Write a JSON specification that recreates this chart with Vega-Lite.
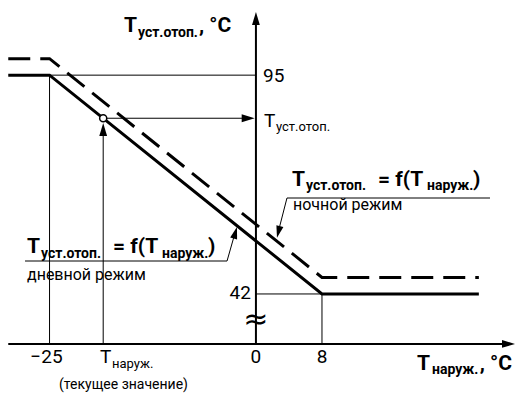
{
  "$schema": "https://vega.github.io/schema/vega-lite/v6.json",
  "width": 516,
  "height": 398,
  "padding": 0,
  "autosize": {"type": "none"},
  "background": "white",
  "config": {"view": {"stroke": null}, "text": {"font": "Roboto", "color": "black"}},
  "datasets": {
    "curves": [
      {"mode": "day", "ord": 1, "x": -30, "y": 95},
      {"mode": "day", "ord": 2, "x": -25, "y": 95},
      {"mode": "day", "ord": 3, "x": 8, "y": 42},
      {"mode": "day", "ord": 4, "x": 27, "y": 42},
      {"mode": "night", "ord": 1, "x": -30, "y": 99},
      {"mode": "night", "ord": 2, "x": -25, "y": 99},
      {"mode": "night", "ord": 3, "x": 8, "y": 46},
      {"mode": "night", "ord": 4, "x": 27, "y": 46}
    ],
    "segments": [
      {"kind": "axis", "x": 0, "y": 29.9, "x2": 0, "y2": 108},
      {"kind": "axis", "x": -30, "y": 29.9, "x2": 30, "y2": 29.9},
      {"kind": "thin", "x": -25, "y": 95, "x2": 0, "y2": 95},
      {"kind": "thin", "x": -25, "y": 95, "x2": -25, "y2": 29.9},
      {"kind": "thin", "x": -18.5, "y": 29.9, "x2": -18.5, "y2": 81},
      {"kind": "thin", "x": -18.5, "y": 84.56, "x2": -1.5, "y2": 84.56},
      {"kind": "thin", "x": 0, "y": 42, "x2": 8, "y2": 42},
      {"kind": "thin", "x": 8, "y": 42, "x2": 8, "y2": 29.9},
      {"kind": "thin", "x": 3.76, "y": 65.24, "x2": 28.35, "y2": 65.24},
      {"kind": "thin", "x": 3.76, "y": 65.24, "x2": 2.7, "y2": 57},
      {"kind": "thin", "x": -27.97, "y": 49.98, "x2": -3.5, "y2": 49.98},
      {"kind": "thin", "x": -3.5, "y": 49.98, "x2": -2.5, "y2": 57}
    ],
    "arrows": [
      {"dir": "up", "x": 0, "y": 110.3},
      {"dir": "up", "x": -18.5, "y": 83.4},
      {"dir": "right", "x": 31.38, "y": 29.9},
      {"dir": "right", "x": -0.15, "y": 84.56},
      {"dir": "night", "x": 2.55, "y": 55.6},
      {"dir": "day", "x": -2.3, "y": 58.2}
    ],
    "marker": [
      {"x": -18.5, "y": 84.56}
    ],
    "texts": [
      {"role": "boldBig", "text": "T", "x": -15.98, "y": 105.45},
      {"role": "boldBig", "text": ", °C", "x": -6.9, "y": 105.45},
      {"role": "boldBig", "text": "T", "x": 19.51, "y": 23.58},
      {"role": "boldBig", "text": ", °C", "x": 27.1, "y": 23.58},
      {"role": "boldBig", "text": "T", "x": 4.37, "y": 68.15},
      {"role": "boldBig", "text": "= f(T", "x": 14.79, "y": 68.15},
      {"role": "boldBig", "text": ")", "x": 26.29, "y": 68.15},
      {"role": "boldBig", "text": "T", "x": -27.73, "y": 51.92},
      {"role": "boldBig", "text": "= f(T", "x": -17.31, "y": 51.92},
      {"role": "boldBig", "text": ")", "x": -5.81, "y": 51.92},
      {"role": "boldSub", "text": "уст.отоп.", "x": -14.29, "y": 104.24},
      {"role": "boldSub", "text": "наруж.", "x": 21.33, "y": 22.61},
      {"role": "boldSub", "text": "уст.отоп.", "x": 6.06, "y": 67.18},
      {"role": "boldSub", "text": "наруж.", "x": 20.72, "y": 67.18},
      {"role": "boldSub", "text": "уст.отоп.", "x": -26.03, "y": 50.71},
      {"role": "boldSub", "text": "наруж.", "x": -11.38, "y": 50.71},
      {"role": "regBig", "text": "95", "x": 0.86, "y": 93.34},
      {"role": "regBig", "text": "T", "x": 0.98, "y": 82.44},
      {"role": "regBig", "text": "T", "x": -18.89, "y": 25.28},
      {"role": "regSub", "text": "уст.отоп.", "x": 2.43, "y": 81.47},
      {"role": "regSub", "text": "наруж.", "x": -17.43, "y": 24.07},
      {"role": "regMid", "text": "ночной режим", "x": 4.49, "y": 62.34},
      {"role": "regMid", "text": "дневной режим", "x": -27.73, "y": 45.38},
      {"role": "tick", "text": "−25", "x": -25.37, "y": 25.28},
      {"role": "tick", "text": "0", "x": 0, "y": 25.28},
      {"role": "tick", "text": "8", "x": 8, "y": 25.28},
      {"role": "note", "text": "(текущее значение)", "x": -16.04, "y": 18.98},
      {"role": "tickRight", "text": "42", "x": -0.6, "y": 40.66},
      {"role": "break", "text": "≈", "x": 0, "y": 33.6}
    ]
  },
  "encoding": {
    "x": {"field": "x", "type": "quantitative", "scale": {"domain": [-31, 31.5], "nice": false, "zero": false}, "axis": null},
    "y": {"field": "y", "type": "quantitative", "scale": {"domain": [16.8, 113.2], "nice": false, "zero": false}, "axis": null}
  },
  "layer": [
    {
      "data": {"name": "segments"},
      "transform": [{"filter": "datum.kind === 'thin'"}],
      "mark": {"type": "rule", "color": "black", "strokeWidth": 1},
      "encoding": {"x2": {"field": "x2"}, "y2": {"field": "y2"}}
    },
    {
      "data": {"name": "segments"},
      "transform": [{"filter": "datum.kind === 'axis'"}],
      "mark": {"type": "rule", "color": "black", "strokeWidth": 2},
      "encoding": {"x2": {"field": "x2"}, "y2": {"field": "y2"}}
    },
    {
      "data": {"name": "curves"},
      "transform": [{"filter": "datum.mode === 'day'"}],
      "mark": {"type": "line", "color": "black", "strokeWidth": 3, "strokeJoin": "miter"},
      "encoding": {"order": {"field": "ord"}}
    },
    {
      "data": {"name": "curves"},
      "transform": [{"filter": "datum.mode === 'night'"}],
      "mark": {"type": "line", "color": "black", "strokeWidth": 3, "strokeDash": [22, 10], "strokeJoin": "miter"},
      "encoding": {"order": {"field": "ord"}}
    },
    {
      "data": {"name": "marker"},
      "mark": {"type": "point", "shape": "circle", "size": 50, "filled": false, "fill": "white", "fillOpacity": 1, "stroke": "black", "strokeWidth": 1.5, "opacity": 1}
    },
    {
      "data": {"name": "arrows"},
      "transform": [{"filter": "datum.dir === 'up'"}],
      "mark": {"type": "point", "shape": "M0,0L0.6,2L-0.6,2Z", "size": 169, "filled": true, "color": "black", "opacity": 1, "angle": 0}
    },
    {
      "data": {"name": "arrows"},
      "transform": [{"filter": "datum.dir === 'right'"}],
      "mark": {"type": "point", "shape": "M0,0L0.6,2L-0.6,2Z", "size": 169, "filled": true, "color": "black", "opacity": 1, "angle": 90}
    },
    {
      "data": {"name": "arrows"},
      "transform": [{"filter": "datum.dir === 'night'"}],
      "mark": {"type": "point", "shape": "M0,0L0.6,2L-0.6,2Z", "size": 144, "filled": true, "color": "black", "opacity": 1, "angle": 194}
    },
    {
      "data": {"name": "arrows"},
      "transform": [{"filter": "datum.dir === 'day'"}],
      "mark": {"type": "point", "shape": "M0,0L0.6,2L-0.6,2Z", "size": 144, "filled": true, "color": "black", "opacity": 1, "angle": 16}
    },
    {
      "data": {"name": "texts"},
      "transform": [{"filter": "datum.role === 'boldBig'"}],
      "mark": {"type": "text", "align": "left", "baseline": "alphabetic", "fontSize": 21, "fontWeight": "bold"},
      "encoding": {"text": {"field": "text"}}
    },
    {
      "data": {"name": "texts"},
      "transform": [{"filter": "datum.role === 'boldSub'"}],
      "mark": {"type": "text", "align": "left", "baseline": "alphabetic", "fontSize": 14, "fontWeight": "bold"},
      "encoding": {"text": {"field": "text"}}
    },
    {
      "data": {"name": "texts"},
      "transform": [{"filter": "datum.role === 'regBig'"}],
      "mark": {"type": "text", "align": "left", "baseline": "alphabetic", "fontSize": 19},
      "encoding": {"text": {"field": "text"}}
    },
    {
      "data": {"name": "texts"},
      "transform": [{"filter": "datum.role === 'regSub'"}],
      "mark": {"type": "text", "align": "left", "baseline": "alphabetic", "fontSize": 13},
      "encoding": {"text": {"field": "text"}}
    },
    {
      "data": {"name": "texts"},
      "transform": [{"filter": "datum.role === 'regMid'"}],
      "mark": {"type": "text", "align": "left", "baseline": "alphabetic", "fontSize": 16},
      "encoding": {"text": {"field": "text"}}
    },
    {
      "data": {"name": "texts"},
      "transform": [{"filter": "datum.role === 'tick'"}],
      "mark": {"type": "text", "align": "center", "baseline": "alphabetic", "fontSize": 19},
      "encoding": {"text": {"field": "text"}}
    },
    {
      "data": {"name": "texts"},
      "transform": [{"filter": "datum.role === 'tickRight'"}],
      "mark": {"type": "text", "align": "right", "baseline": "alphabetic", "fontSize": 19},
      "encoding": {"text": {"field": "text"}}
    },
    {
      "data": {"name": "texts"},
      "transform": [{"filter": "datum.role === 'note'"}],
      "mark": {"type": "text", "align": "center", "baseline": "alphabetic", "fontSize": 14},
      "encoding": {"text": {"field": "text"}}
    },
    {
      "data": {"name": "texts"},
      "transform": [{"filter": "datum.role === 'break'"}],
      "mark": {"type": "text", "align": "center", "baseline": "alphabetic", "fontSize": 30, "font": "DejaVu Sans"},
      "encoding": {"text": {"field": "text"}}
    }
  ]
}
